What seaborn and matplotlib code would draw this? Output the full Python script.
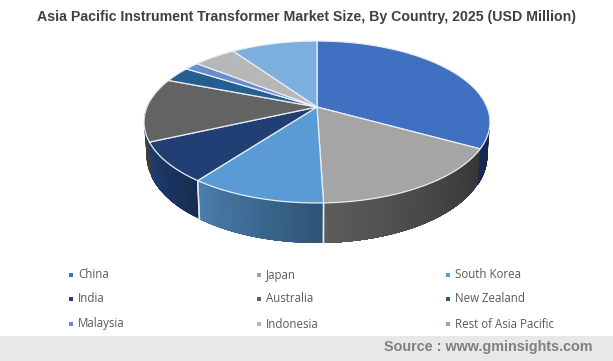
import numpy as np
import matplotlib
matplotlib.use("Agg")
import matplotlib.pyplot as plt
import seaborn as sns

# =====================
# DATA
# =====================
countries = ["China", "Japan", "South Korea", "India", "Australia", "New Zealand",
             "Malaysia", "Indonesia", "Rest of Asia Pacific"]
shares = [33.1, 16.4, 10.7, 8.0, 12.7, 3.1, 1.6, 4.8, 9.6]
top_colors = ["#4070C2", "#A5A5A5", "#5B9BD5", "#223F75", "#636363", "#255E91",
              "#698ED0", "#B7B7B7", "#7CAFDD"]
# wall colours, left end and right end on screen
wall_colors = [("#142B52", "#12264A"), ("#5C5C5C", "#363636"), ("#4A7EAD", "#2E5475"),
               ("#1F3D6E", "#172C52"), ("#454545", "#3A3A3A"), ("#1A4468", "#1A4468"),
               ("#4A6A9C", "#4A6A9C"), ("#808080", "#808080"), ("#5A80A0", "#5A80A0")]

title = "Asia Pacific Instrument Transformer Market Size, By Country, 2025 (USD Million)"
source = "Source : www.gminsights.com"

# =====================
# PIE GEOMETRY (tilted disc, pixels)
# =====================
CX, CY = 317, 107
R, B, K = 170, 78.2, 0.185


def rim(theta):
    # theta clockwise from 12 o'clock, radians
    u, v = np.sin(theta), np.cos(theta)
    return CX + R * u / (1 + K * v), CY - B * v / (1 + K * v)


def rim_bottom(theta):
    x, y = rim(theta)
    depth = 32 - 8 * np.cos(theta)
    return CX + (x - CX) * 0.985, y + depth


sns.set_theme(style="white")
plt.rcParams["font.family"] = ["Open Sans", "DejaVu Sans"]

fig, ax = plt.subplots(figsize=(6.13, 3.61), dpi=100)
fig.subplots_adjust(0, 0, 1, 1)
ax.set_xlim(0, 613)
ax.set_ylim(361, 0)
ax.axis("off")

edges = np.radians(np.cumsum([0] + shares) / sum(shares) * 360)

# =====================
# WALLS
# =====================
for i in range(len(shares)):
    lo = max(edges[i], np.radians(90))
    hi = min(edges[i + 1], np.radians(276))
    if hi <= lo:
        continue
    n = max(2, int((hi - lo) * 40))
    steps = np.linspace(lo, hi, n + 1)
    # steps run right to left on screen in the front half
    shades = sns.blend_palette([wall_colors[i][1], wall_colors[i][0]], n)
    for j in range(n):
        # each strip runs to the end of the slice, the next one paints over it
        t = np.linspace(steps[j], hi, max(4, (n - j) * 4))
        x1, y1 = rim(t)
        x2, y2 = rim_bottom(t[::-1])
        ax.fill(np.r_[x1, x2], np.r_[y1, y2], color=shades[j], lw=0, zorder=1)
    # white seam at the start of the slice
    for a in (edges[i], edges[i + 1]):
        if np.radians(120) < a < np.radians(240):
            x1, y1 = rim(a)
            x2, y2 = rim_bottom(a)
            ax.plot([x1, x2], [y1, y2], color="#E6ECF2", lw=1, zorder=2)

# =====================
# TOP FACE
# =====================
for i in range(len(shares)):
    t = np.linspace(edges[i], edges[i + 1], 80)
    x, y = rim(t)
    ax.fill(np.r_[CX, x], np.r_[CY, y], facecolor=top_colors[i], edgecolor="#E9EEF4",
            lw=0.9, joinstyle="round", zorder=3)

# =====================
# TEXT / LEGEND
# =====================
ax.text(306.5, 17, title, ha="center", va="center", fontsize=10.2, fontweight="bold",
        color="#404040", family=["Liberation Sans"])

col_x = [71, 259, 448]
row_y = [275, 299, 324]
for i, name in enumerate(countries):
    lx, ly = col_x[i % 3], row_y[i // 3]
    ax.scatter([lx], [ly], marker="s", s=5, color=top_colors[i], linewidths=0)
    ax.text(lx + 7, ly, name, ha="left", va="center", fontsize=8.3, color="#595959")

ax.axhspan(336, 361, color="#E8E8E8", lw=0, zorder=0)
ax.text(593, 347.5, source, ha="right", va="center", fontsize=10.4, fontweight="bold",
        color="#808080", family=["Liberation Sans"])

plt.savefig("out.png", dpi=100)
plt.close()
